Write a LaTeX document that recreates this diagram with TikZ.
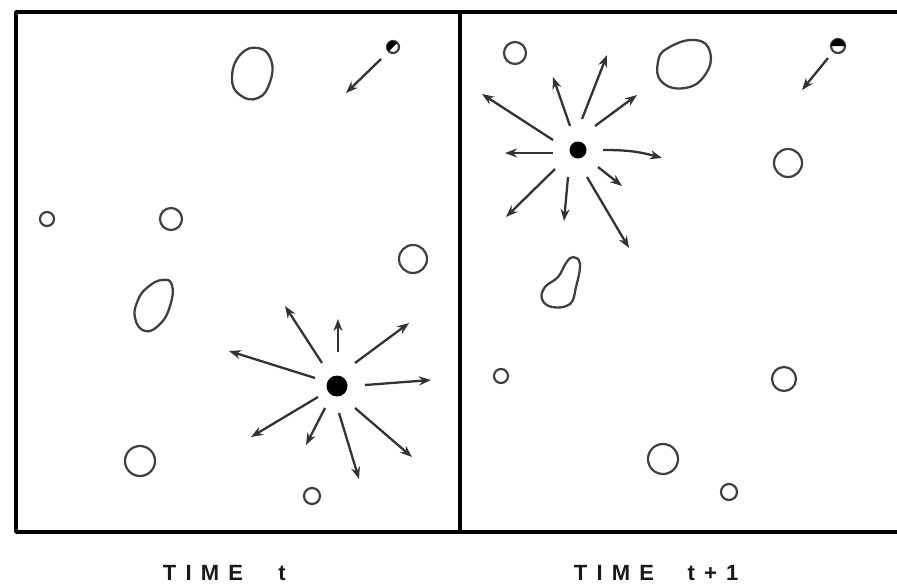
\documentclass[tikz,border=0pt]{standalone}
\usepackage{fontspec}
\setmainfont{Liberation Sans}
\usetikzlibrary{arrows.meta}
\tikzset{
  frame/.style={line width=3.6pt, line cap=round, line join=round},
  ring/.style={circle, draw=black!75, line width=2.2pt, inner sep=0pt},
  dot/.style={circle, fill=black, inner sep=0pt},
  blob/.style={draw=black!75, line width=2.3pt},
  arr/.style={line width=2.3pt, draw=black!80, -{Stealth[length=12pt,width=9pt]}},
  lbl/.style={font=\bfseries\fontsize{22}{24}\selectfont\addfontfeature{LetterSpace=42}, inner sep=0pt, text=black!90}
}
\begin{document}
\begin{tikzpicture}[x=1pt,y=-1pt]
\useasboundingbox (0,0) rectangle (897,587);
% frame
\draw[frame] (897,12) -- (16,12) -- (16,532) -- (897,532);
\draw[frame] (460,12) -- (460,532);

% ---------- left panel (time t) ----------
\node[ring, minimum size=12pt] (hc1) at (393,47) {};
\fill[black] (393,47) ++(135:6) arc[start angle=135, end angle=315, radius=6] -- cycle;
\coordinate (hc1s) at (381,59);
\coordinate (hc1e) at (346,93);
\draw[arr] (hc1s) -- (hc1e);

\draw[blob] plot[smooth cycle, tension=0.8] coordinates {(240,55) (258,48) (271,60) (270,82) (258,98) (240,95) (232,78)};
\draw[blob] plot[smooth cycle, tension=0.8] coordinates {(162,280) (172,285) (170,306) (160,324) (145,331) (135,318) (138,300) (148,287)};

\node[ring, minimum size=14pt] (c1) at (47,219) {};
\node[ring, minimum size=22pt] (c2) at (171,219) {};
\node[ring, minimum size=28pt] (c3) at (413,259) {};
\node[ring, minimum size=30pt] (c4) at (140,461) {};
\node[ring, minimum size=16pt] (c5) at (312,496) {};

\node[dot, minimum size=21pt] (d1) at (337,386) {};
\coordinate (a1s) at (322,363); \coordinate (a1e) at (285,306);
\coordinate (a2s) at (338,352); \coordinate (a2e) at (338,319);
\coordinate (a3s) at (355,363); \coordinate (a3e) at (409,323);
\coordinate (a4s) at (365,385); \coordinate (a4e) at (431,380);
\coordinate (a5s) at (355,408); \coordinate (a5e) at (412,457);
\coordinate (a6s) at (339,413); \coordinate (a6e) at (359,479);
\coordinate (a7s) at (325,408); \coordinate (a7e) at (306,445);
\coordinate (a8s) at (318,397); \coordinate (a8e) at (251,437);
\coordinate (a9s) at (315,378); \coordinate (a9e) at (229,351);
\foreach \i in {1,...,9} {\draw[arr] (a\i s) -- (a\i e);}

% ---------- right panel (time t+1) ----------
\node[ring, minimum size=22pt] (r1) at (515,53) {};
\draw[blob] plot[smooth cycle, tension=0.8] coordinates {(668,48) (695,40) (710,52) (705,75) (685,88) (662,82) (658,62)};
\node[ring, minimum size=14pt] (hc2) at (838,46) {};
\fill[black] (838,46) ++(180:7) arc[start angle=180, end angle=360, radius=7] -- cycle;
\coordinate (hc2s) at (828,58);
\coordinate (hc2e) at (802,90);
\draw[arr] (hc2s) -- (hc2e);

\node[dot, minimum size=17pt] (d2) at (578,150) {};
\coordinate (b1s) at (553,140); \coordinate (b1e) at (482,94);
\coordinate (b2s) at (570,126); \coordinate (b2e) at (553,77);
\coordinate (b3s) at (582,119); \coordinate (b3e) at (607,55);
\coordinate (b4s) at (595,126); \coordinate (b4e) at (637,95);
\coordinate (b6s) at (598,167); \coordinate (b6e) at (622,186);
\coordinate (b7s) at (587,177); \coordinate (b7e) at (629,248);
\coordinate (b8s) at (568,177); \coordinate (b8e) at (564,221);
\coordinate (b9s) at (555,169); \coordinate (b9e) at (506,217);
\coordinate (b10s) at (553,153); \coordinate (b10e) at (505,153);
\foreach \i in {1,2,3,4,6,7,8,9,10} {\draw[arr] (b\i s) -- (b\i e);}
\coordinate (b5s) at (603,150); \coordinate (b5e) at (662,158);
\draw[arr] (b5s) to[bend left=8] (b5e);

\node[ring, minimum size=28pt] (r2) at (788,163) {};
\draw[blob] plot[smooth cycle, tension=0.7] coordinates {(573,257) (580,264) (576,287) (570,304) (552,307) (542,299) (545,287) (558,277) (566,263)};
\node[ring, minimum size=14pt] (r3) at (501,376) {};
\node[ring, minimum size=24pt] (r4) at (784,379) {};
\node[ring, minimum size=30pt] (r5) at (663,459) {};
\node[ring, minimum size=16pt] (r6) at (729,492) {};

% labels
\node[lbl] (l1) at (203,573) {TIME};
\node[lbl] (l1t) at (282,573) {t};
\node[lbl] (l2) at (614,573) {TIME};
\node[lbl] (l2t) at (713,573) {t+1};
\end{tikzpicture}
\end{document}
